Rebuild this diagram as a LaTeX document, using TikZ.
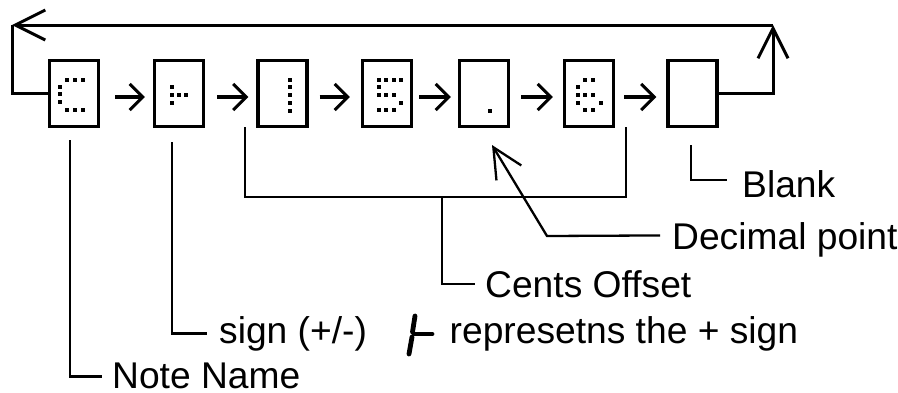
\documentclass[tikz,border=0pt]{standalone}
\usepackage{fontspec}
\setmainfont{Liberation Sans}
\usetikzlibrary{arrows.meta}
\begin{document}
\begin{tikzpicture}[x=1pt, y=-1pt,
  cell/.style={draw, line width=3.2pt, minimum width=49pt, minimum height=66pt, inner sep=0pt},
  flow/.style={line width=3.1pt, -{Straight Barb[length=13pt,width=26pt]}},
  loopline/.style={line width=3pt},
  bigbarb/.style={-{Straight Barb[length=30pt,width=30pt]}},
  lead/.style={line width=2.3pt},
  lbl/.style={anchor=base west, inner sep=0pt, font=\fontsize{37.2pt}{40pt}\selectfont}
]
\useasboundingbox (0,0) rectangle (898,392);

% the seven display cells
\node[cell] (b1) at (74,93.5) {};
\node[cell] (b2) at (179,93.5) {};
\node[cell] (b3) at (282.5,93.5) {};
\node[cell] (b4) at (387,93.5) {};
\node[cell] (b5) at (484,93.5) {};
\node[cell] (b6) at (589,93.5) {};
\node[cell] (b7) at (692.5,93.5) {};

% dot-matrix characters
\foreach \u/\v in {67/80,75/80,83/80,60/87,60/94,60/102,67/110,75/110,83/110,
  172/87,172/95,179/95,186/95,172/103,
  290/80,290/87,290/95,290/103,290/111,
  379/80,386/80,394/80,401/80,379/87,379/95,386/95,394/95,401/103,379/110,386/110,394/110,
  490/111,
  585/80,593/80,578/87,578/95,585/95,593/95,578/103,601/103,585/110,593/110}
  \fill (\u-2.4,\v-2.4) rectangle (\u+2.4,\v+2.4);

% arrows between cells
\draw[flow, shorten <=15pt, shorten >=8pt] ([yshift=-3.5pt]b1.east) -- ([yshift=-3.5pt]b2.west);
\draw[flow, shorten <=12pt, shorten >=8pt] ([yshift=-3.5pt]b2.east) -- ([yshift=-3.5pt]b3.west);
\draw[flow, shorten <=11pt, shorten >=11pt] ([yshift=-3.5pt]b3.east) -- ([yshift=-3.5pt]b4.west);
\draw[flow, shorten <=6pt, shorten >=7pt] ([yshift=-3.5pt]b4.east) -- ([yshift=-3.5pt]b5.west);
\draw[flow, shorten <=11pt, shorten >=10pt] ([yshift=-3.5pt]b5.east) -- ([yshift=-3.5pt]b6.west);
\draw[flow, shorten <=9pt, shorten >=10pt] ([yshift=-3.5pt]b6.east) -- ([yshift=-3.5pt]b7.west);

% return loop over the top
\coordinate (tr) at (773,25);
\coordinate (tl) at (12,25);
\draw[loopline, bigbarb] (b7.east) -| (tr);
\draw[loopline, bigbarb] (tr) -- (tl);
\draw[loopline] (tl) |- (b1.west);

% labels
\node[lbl] (bl) at (742,197) {Blank};
\node[lbl] (dp) at (672,249) {Decimal point};
\node[lbl] (co) at (485,297) {Cents Offset};
\node[lbl] (sg) at (219,343) {sign (+/-)};
\node[lbl] (rp) at (449.5,343) {represetns the + sign};
\node[lbl] (nn) at (112,388) {Note Name};

% leader lines
\coordinate (nnTop) at (70,140);
\draw[lead, shorten >=10pt] (nnTop) |- ([yshift=-1pt]nn.west);
\coordinate (sgTop) at (172,142);
\draw[lead, shorten >=12pt] (sgTop) |- (sg.west);
\coordinate (cL) at (245,127);
\coordinate (cR) at (626,127);
\coordinate (cM) at (442,197);
\draw[lead] (cL) |- (cM) -| (cR);
\draw[lead, shorten >=10pt] (cM) |- (co.west);
\coordinate (dpBend) at (547,236);
\coordinate (dpTip) at (492,145);
\draw[lead, shorten <=12pt, -{Straight Barb[length=30pt,width=29pt]}] ([yshift=4pt]dp.west) -- (dpBend) -- (dpTip);
\coordinate (blTop) at (691,145);
\draw[lead, shorten >=15pt] (blTop) |- ([yshift=4pt]bl.west);

% brush-stroke glyph standing for the plus sign
\begin{scope}[line width=4.8pt, line cap=round]
  \draw (415,316) -- (412.5,332);
  \draw (412,337) -- (409,354);
  \draw (414,334) -- (432,334);
\end{scope}
\end{tikzpicture}
\end{document}
